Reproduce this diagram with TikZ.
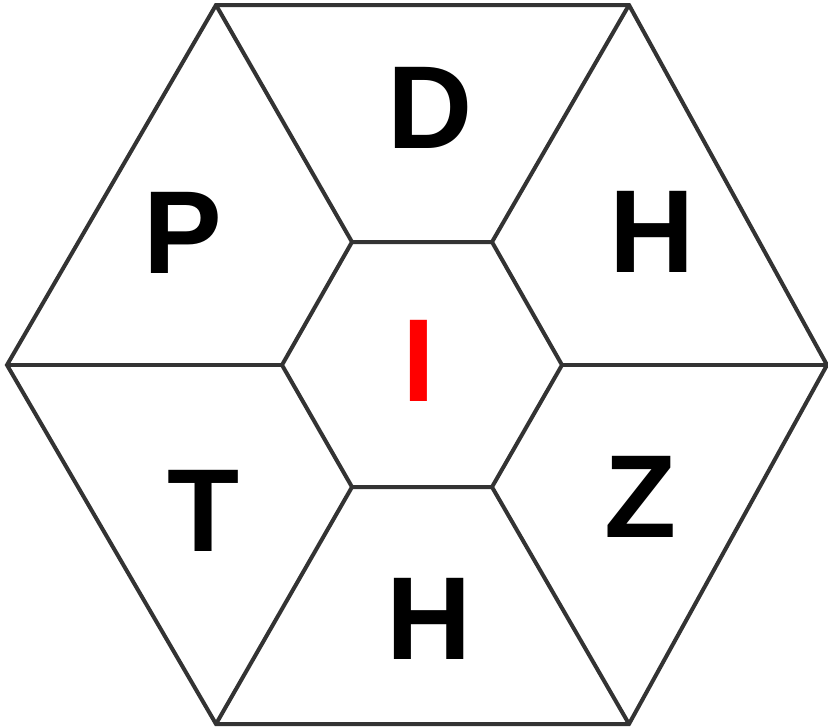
\documentclass[tikz,border=0pt]{standalone}
\usepackage{fontspec}
\setmainfont{Liberation Sans}
\begin{document}
\begin{tikzpicture}[x=1pt,y=-1pt,
  edge/.style={draw=black!80, line width=4pt, line join=miter},
  letter/.style={inner sep=0pt, font=\fontsize{118}{118}\selectfont\bfseries, text=black}]
\useasboundingbox (0,0) rectangle (828,728);
% outer vertices
\coordinate (O1) at (216,5);
\coordinate (O2) at (629,5);
\coordinate (O3) at (827,365);
\coordinate (O4) at (629,724);
\coordinate (O5) at (216,724);
\coordinate (O6) at (7,365);
% inner vertices
\coordinate (I1) at (352,242);
\coordinate (I2) at (492,242);
\coordinate (I3) at (562,365);
\coordinate (I4) at (492,487);
\coordinate (I5) at (352,487);
\coordinate (I6) at (282,365);
\draw[edge] (O1) -- (O2) -- (O3) -- (O4) -- (O5) -- (O6) -- cycle;
\draw[edge] (I1) -- (I2) -- (I3) -- (I4) -- (I5) -- (I6) -- cycle;
\draw[edge] (I1) -- (O1);
\draw[edge] (I2) -- (O2);
\draw[edge] (I3) -- (O3);
\draw[edge] (I4) -- (O4);
\draw[edge] (I5) -- (O5);
\draw[edge] (I6) -- (O6);
% letters
\node[letter] (lD) at (430,108) {D};
\node[letter] (lP) at (183,233) {P};
\node[letter] (lH1) at (652,232) {H};
\node[letter] (lT) at (204,511) {T};
\node[letter] (lZ) at (641,497) {Z};
\node[letter] (lH2) at (429,619) {H};
\node[letter, text={rgb,255:red,255;green,0;blue,0}] (lI) at (419,361) {I};
\end{tikzpicture}
\end{document}
